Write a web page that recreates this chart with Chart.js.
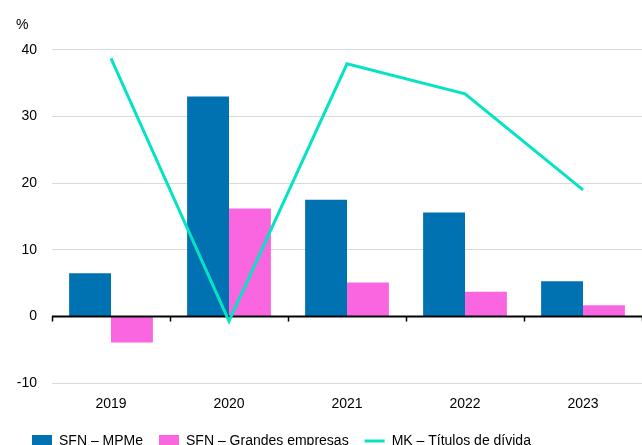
<!DOCTYPE html>
<html>
<head>
<meta charset="utf-8">
<script src="https://cdn.jsdelivr.net/npm/chart.js@4.4.1/dist/chart.umd.min.js"></script>
<style>
    html, body { margin: 0; padding: 0; background: #fff; overflow: hidden; }
    #wrap { width: 642px; height: 458px; position: relative; }
</style>
</head>
<body>
<div id="wrap"><canvas id="chart"></canvas></div>
<script>
// Chart data
const years = ['2019', '2020', '2021', '2022', '2023'];
const sfnMpme = [6.5, 33.0, 17.5, 15.6, 5.3];
const sfnGrandes = [-3.9, 16.2, 5.1, 3.7, 1.7];
const mkTitulos = [38.7, -0.7, 37.9, 33.4, 19.0];
const yTicks = [-10, 0, 10, 20, 30, 40];

const BLUE = '#0071b1';
const PINK = '#fa66e0';
const TEAL = '#06e3c4';

// Black zero line with small tick marks at category boundaries,
// drawn over the bars but under the line series
const zeroLine = {
    id: 'zeroLine',
    beforeDatasetDraw(chart, args) {
        if (args.index !== 2) return;
        const { ctx, chartArea, scales } = chart;
        const y0 = scales.y.getPixelForValue(0);
        const step = chartArea.width / years.length;
        ctx.save();
        ctx.strokeStyle = '#000';
        ctx.lineWidth = 2;
        ctx.beginPath();
        ctx.moveTo(chartArea.left, y0);
        ctx.lineTo(chartArea.right, y0);
        ctx.stroke();
        ctx.lineWidth = 1.5;
        for (let i = 0; i <= years.length; i++) {
            const x = Math.round(chartArea.left + i * step) + 0.5;
            ctx.beginPath();
            ctx.moveTo(x, y0);
            ctx.lineTo(x, y0 + 5);
            ctx.stroke();
        }
        ctx.restore();
    }
};

function initChart() {
    const ctx = document.getElementById('chart');
    Chart.defaults.font.family = '"Liberation Sans", Arial, sans-serif';
    Chart.defaults.font.size = 14;
    Chart.defaults.color = '#000';

    new Chart(ctx, {
        type: 'bar',
        data: {
            labels: years,
            datasets: [{
                label: 'SFN – MPMe',
                data: sfnMpme,
                backgroundColor: BLUE,
                categoryPercentage: 0.71,
                barPercentage: 1
            }, {
                label: 'SFN – Grandes empresas',
                data: sfnGrandes,
                backgroundColor: PINK,
                categoryPercentage: 0.71,
                barPercentage: 1
            }, {
                type: 'line',
                label: 'MK – Títulos de dívida',
                data: mkTitulos,
                borderColor: TEAL,
                backgroundColor: TEAL,
                borderWidth: 3,
                pointRadius: 0,
                tension: 0,
                order: -1
            }]
        },
        options: {
            responsive: true,
            maintainAspectRatio: false,
            animation: false,
            layout: { padding: { left: 16, right: 0, top: 17, bottom: 0 } },
            plugins: {
                title: {
                    display: true,
                    text: '%',
                    align: 'start',
                    font: { size: 14, weight: 'normal' },
                    color: '#000',
                    padding: { top: 0, bottom: 16 }
                },
                legend: {
                    position: 'bottom',
                    align: 'start',
                    labels: {
                        usePointStyle: true,
                        pointStyleWidth: 20,
                        boxHeight: 12,
                        padding: 16,
                        color: '#000',
                        font: { size: 14 },
                        generateLabels(chart) {
                            const items = Chart.defaults.plugins.legend.labels.generateLabels(chart);
                            items.forEach(item => {
                                if (item.datasetIndex === 2) {
                                    item.pointStyle = 'line';
                                    item.lineWidth = 3;
                                    item.strokeStyle = TEAL;
                                } else {
                                    item.pointStyle = 'rect';
                                    item.lineWidth = 0;
                                }
                            });
                            return items.sort((a, b) => a.datasetIndex - b.datasetIndex);
                        }
                    }
                },
                tooltip: { enabled: false }
            },
            scales: {
                x: {
                    grid: { display: false },
                    border: { display: false },
                    ticks: { padding: 5, color: '#000' }
                },
                y: {
                    min: -10,
                    max: 40,
                    afterBuildTicks(scale) {
                        scale.ticks = yTicks.map(v => ({ value: v }));
                    },
                    afterFit(scale) {
                        scale.width = 36;
                    },
                    grid: {
                        drawTicks: false,
                        color: c => (c.tick && c.tick.value === 0) ? 'rgba(0,0,0,0)' : '#d9d9d9',
                        lineWidth: 1
                    },
                    border: { display: false },
                    ticks: { padding: 15, color: '#000' }
                }
            }
        },
        plugins: [zeroLine]
    });
}

document.addEventListener('DOMContentLoaded', initChart);
</script>
</body>
</html>
